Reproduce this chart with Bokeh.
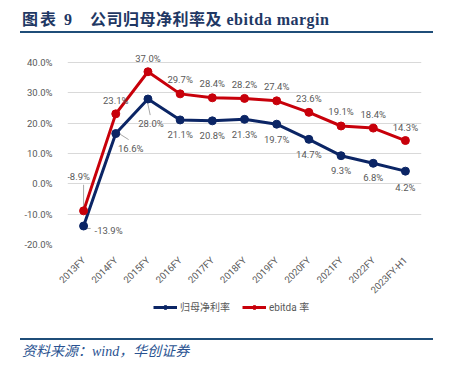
import math
from bokeh.plotting import figure
from bokeh.models import (Div, FixedTicker, PrintfTickFormatter, Legend, LegendItem,
                          ColumnDataSource)
from bokeh.layouts import column
from bokeh.core.properties import value
from bokeh.embed import file_html
from bokeh.resources import INLINE

# ---- data ----
categories = ["2013FY", "2014FY", "2015FY", "2016FY", "2017FY", "2018FY",
              "2019FY", "2020FY", "2021FY", "2022FY", "2023FY-H1"]
net_margin = [-13.9, 16.6, 28.0, 21.1, 20.8, 21.3, 19.7, 14.7, 9.3, 6.8, 4.2]
ebitda_margin = [-8.9, 23.1, 37.0, 29.7, 28.4, 28.2, 27.4, 23.6, 19.1, 18.4, 14.3]
y_ticks = [-20, -10, 0, 10, 20, 30, 40]
series_names = ["归母净利率", "ebitda 率"]

# ---- styles ----
BLUE = "#0B2565"
RED = "#C8000A"
GRAY = "#595959"
LEAD = "#A6A6A6"
FONT = "Roboto, 'Noto Sans CJK SC'"

red_dx = [-5, 0, 0, 0, 0, 0, 0, 0, 0, 0, 0]
red_dy = [-34, -13, -13.5, -14, -14, -14, -14, -14, -14, -14, -13]
blue_dx = [25, 15, 3, 0, 0, 0, 0, 0, 0, 0, 0]
blue_dy = [4, 15, 24, 15, 15, 15, 15, 15, 15, 14, 16]

xs = list(range(len(categories)))

p = figure(frame_width=354, frame_height=197, x_range=(-0.5, len(categories) - 0.5),
           y_range=(-20, 45), output_backend="svg", toolbar_location=None,
           min_border_left=67, min_border_right=32, min_border_top=11,
           min_border_bottom=52)
p.outline_line_color = None
p.background_fill_color = None
p.border_fill_color = None

p.xaxis.ticker = FixedTicker(ticks=xs)
p.xaxis.major_label_overrides = {i: c for i, c in enumerate(categories)}
p.xaxis.major_label_orientation = math.pi / 4
p.yaxis.ticker = FixedTicker(ticks=y_ticks)
p.yaxis.formatter = PrintfTickFormatter(format="%.1f%%")
for ax in (p.xaxis, p.yaxis):
    ax.axis_line_color = None
    ax.major_tick_line_color = None
    ax.minor_tick_line_color = None
    ax.major_label_text_color = GRAY
    ax.major_label_text_font = FONT
    ax.major_label_text_font_size = "9.5px"
p.xaxis.major_label_standoff = 8
p.yaxis.major_label_standoff = 9
p.xgrid.visible = False
p.ygrid.grid_line_color = "#D9D9D9"
p.ygrid.grid_line_width = 1

# leader lines
p.segment(x0=[0, 0.07, 1.06, 1.97], x1=[0, 0.22, 1.4, 2.07],
          y0=[ebitda_margin[0] + 1.3, net_margin[0] - 0.8, net_margin[1] + 0.3, net_margin[2] - 0.3],
          y1=[ebitda_margin[0] + 8.6, net_margin[0] - 0.8, net_margin[1] - 2.0, net_margin[2] - 5.3],
          line_color=LEAD, line_width=1)

p.line(xs, net_margin, line_color=BLUE, line_width=3)
p.scatter(xs, net_margin, size=8, fill_color=BLUE, line_color=BLUE)
p.line(xs, ebitda_margin, line_color=RED, line_width=3)
p.scatter(xs, ebitda_margin, size=8, fill_color=RED, line_color=RED)

src_r = ColumnDataSource(dict(x=xs, y=ebitda_margin, t=[f"{v:.1f}%" for v in ebitda_margin],
                              dx=red_dx, dy=red_dy))
src_b = ColumnDataSource(dict(x=xs, y=net_margin, t=[f"{v:.1f}%" for v in net_margin],
                              dx=blue_dx, dy=blue_dy))
for s in (src_r, src_b):
    p.text(x="x", y="y", text="t", x_offset="dx", y_offset="dy", source=s,
           text_align="center", text_baseline="middle", text_font_size="9.5px",
           text_color=GRAY, text_font=value(FONT))

# ---- legend strip (separate figure, placed below the rotated axis labels) ----
# the series are drawn again here but the ranges keep them out of view,
# so only the legend entries show
lg = figure(width=453, height=20, x_range=(1000, 1001), y_range=(1000, 1001),
            output_backend="svg", toolbar_location=None, min_border=0,
            x_axis_location=None, y_axis_location=None)
lg.grid.visible = False
lg.outline_line_color = None
lg.background_fill_color = None
lg.border_fill_color = None
kl = lg.line(xs, net_margin, line_color=BLUE, line_width=3)
ks = lg.scatter(xs, net_margin, size=8, fill_color=BLUE, line_color=BLUE)
el = lg.line(xs, ebitda_margin, line_color=RED, line_width=3)
es = lg.scatter(xs, ebitda_margin, size=8, fill_color=RED, line_color=RED)
legend = Legend(items=[LegendItem(label=series_names[0], renderers=[kl, ks]),
                       LegendItem(label=series_names[1], renderers=[el, es])],
                orientation="horizontal", location=(86, 8),
                border_line_color=None, background_fill_alpha=0,
                label_text_color=GRAY, label_text_font=FONT, label_text_font_size="10px",
                glyph_width=24, glyph_height=10, label_standoff=3, spacing=12,
                padding=0, margin=0)
lg.add_layout(legend)

title_html = (
    '<div style="position:relative;margin-left:20px;margin-top:8px;width:413px;height:25px;'
    'border-bottom:2px solid #1F4E79;color:#1F3864;font-weight:bold;font-size:16px;'
    "font-family:'Liberation Serif','Noto Sans CJK SC',serif;line-height:16px;\">"
    '<span style="position:absolute;left:2px;top:4px;letter-spacing:2px;">图表</span>'
    '<span style="position:absolute;left:44px;top:4px;">9</span>'
    '<span style="position:absolute;left:70px;top:4px;letter-spacing:0.5px;white-space:nowrap;">'
    '公司归母净利率及 ebitda margin</span>'
    '</div>'
)
title_div = Div(text=title_html, width=453, height=36, margin=0)

src_html = (
    '<div style="position:relative;margin-left:20px;width:413px;height:20px;margin-top:16px;'
    'border-top:2px solid #1F4E79;color:#2A5391;font-style:italic;font-size:14px;'
    "font-family:'Liberation Serif','Noto Sans CJK SC',serif;line-height:16px;\">"
    '<span style="position:absolute;left:2px;top:4px;">资料来源：wind，华创证券</span>'
    '</div>'
)
src_div = Div(text=src_html, width=453, height=38, margin=0)

layout = column(title_div, p, lg, src_div, spacing=0)
open("out.html", "w").write(file_html(layout, INLINE))
